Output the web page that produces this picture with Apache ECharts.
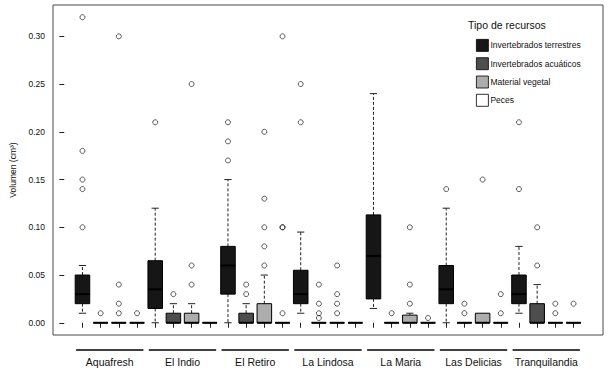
<!DOCTYPE html>
<html>
<head>
<meta charset="utf-8">
<script src="https://cdn.jsdelivr.net/npm/echarts@6/dist/echarts.min.js"></script>
<style>
  html, body { margin: 0; padding: 0; background: #fff; }
  #chart { width: 609px; height: 371px; }
</style>
</head>
<body>
<div id="chart"></div>
<script>
const groups = ['Aquafresh', 'El Indio', 'El Retiro', 'La Lindosa', 'La Maria', 'Las Delicias', 'Tranquilandia']
const seriesNames = ['Invertebrados terrestres', 'Invertebrados acuáticos', 'Material vegetal', 'Peces']
const seriesColors = ['#161616', '#4d4d4d', '#adadad', '#ffffff']
const yTicks = [0, 0.05, 0.1, 0.15, 0.2, 0.25, 0.3]

// [bigote inferior, Q1, mediana, Q3, bigote superior] por localidad
const terrStats = [
    [0.01, 0.02, 0.03, 0.05, 0.06],
    [0.0, 0.015, 0.035, 0.065, 0.12],
    [0.0, 0.03, 0.06, 0.08, 0.15],
    [0.01, 0.02, 0.03, 0.055, 0.095],
    [0.015, 0.025, 0.07, 0.113, 0.24],
    [0.0, 0.02, 0.035, 0.06, 0.12],
    [0.01, 0.02, 0.03, 0.05, 0.08],
]
const acuStats = [
    [0, 0, 0, 0, 0],
    [0, 0, 0, 0.01, 0.02],
    [0, 0, 0, 0.01, 0.02],
    [0, 0, 0, 0, 0],
    [0, 0, 0, 0, 0],
    [0, 0, 0, 0, 0],
    [0, 0, 0, 0.02, 0.04],
]
const vegStats = [
    [0, 0, 0, 0, 0],
    [0, 0, 0, 0.01, 0.02],
    [0, 0, 0, 0.02, 0.05],
    [0, 0, 0, 0, 0],
    [0, 0, 0, 0.008, 0.01],
    [0, 0, 0, 0.01, 0.01],
    [0, 0, 0, 0, 0],
]
const pecesStats = [
    [0, 0, 0, 0, 0],
    [0, 0, 0, 0, 0],
    [0, 0, 0, 0, 0],
    [0, 0, 0, 0, 0],
    [0, 0, 0, 0, 0],
    [0, 0, 0, 0, 0],
    [0, 0, 0, 0, 0],
]

// valores atipicos por localidad
const terrOut = [[0.32, 0.18, 0.15, 0.14, 0.1], [0.21], [0.17, 0.19, 0.21], [0.21, 0.25], [], [0.14], [0.14, 0.21]]
const acuOut = [[0.01], [0.03], [0.03, 0.04], [0.005, 0.01, 0.02, 0.04], [0.01], [0.01, 0.02], [0.06, 0.1]]
const vegOut = [[0.01, 0.02, 0.04, 0.3], [0.04, 0.06, 0.25], [0.06, 0.08, 0.1, 0.13, 0.2], [0.01, 0.02, 0.03, 0.06], [0.02, 0.04, 0.1], [0.15], [0.01, 0.02]]
const pecesOut = [[0.01], [], [0.01, 0.1, 0.1, 0.3], [], [0.005], [0.01, 0.03], [0.02]]

const allStats = [terrStats, acuStats, vegStats, pecesStats]
const allOut = [terrOut, acuOut, vegOut, pecesOut]

const boxWidth = 0.8
const fontFamily = '"Liberation Sans", Arial, sans-serif'

function renderBox(params, api) {
    const x = api.value(0)
    const lo = api.coord([x, api.value(1)])
    const q1 = api.coord([x, api.value(2)])
    const med = api.coord([x, api.value(3)])
    const q3 = api.coord([x, api.value(4)])
    const hi = api.coord([x, api.value(5)])
    const half = api.size([boxWidth, 0])[0] / 2
    const cx = med[0]
    const children = []
    const dash = { stroke: '#222', lineWidth: 1, lineDash: [3, 2] }
    const solid = { stroke: '#222', lineWidth: 1 }
    if (hi[1] < q3[1] - 0.5) {
        children.push({ type: 'line', shape: { x1: cx, y1: q3[1], x2: cx, y2: hi[1] }, style: dash })
        children.push({ type: 'line', shape: { x1: cx - half / 2, y1: hi[1], x2: cx + half / 2, y2: hi[1] }, style: solid })
    }
    if (lo[1] > q1[1] + 0.5) {
        children.push({ type: 'line', shape: { x1: cx, y1: q1[1], x2: cx, y2: lo[1] }, style: dash })
        children.push({ type: 'line', shape: { x1: cx - half / 2, y1: lo[1], x2: cx + half / 2, y2: lo[1] }, style: solid })
    }
    children.push({
        type: 'rect',
        shape: { x: cx - half, y: q3[1], width: half * 2, height: q1[1] - q3[1] },
        style: { fill: api.visual('color'), stroke: '#000', lineWidth: 1 },
    })
    children.push({
        type: 'line',
        shape: { x1: cx - half, y1: med[1], x2: cx + half, y2: med[1] },
        style: { stroke: '#000', lineWidth: 2 },
    })
    return { type: 'group', children: children }
}

const series = []
seriesNames.forEach((name, s) => {
    series.push({
        type: 'custom',
        name: name,
        renderItem: renderBox,
        itemStyle: { color: seriesColors[s] },
        encode: { x: 0, y: [1, 2, 3, 4, 5] },
        data: allStats[s].map((st, g) => [g * 4 + s + 1].concat(st)),
        clip: false,
        silent: true,
        z: 2,
    })
})

const outData = []
allOut.forEach((perGroup, s) => {
    perGroup.forEach((vals, g) => {
        vals.forEach(v => outData.push([g * 4 + s + 1, v]))
    })
})
series.push({
    type: 'scatter',
    name: 'outliers',
    symbol: 'circle',
    symbolSize: 5,
    itemStyle: { color: 'rgba(0,0,0,0)', borderColor: '#000', borderWidth: 0.8 },
    data: outData,
    silent: true,
    z: 3,
})

// lineas bajo cada localidad
series.push({
    type: 'custom',
    name: 'grupos',
    clip: false,
    silent: true,
    data: groups.map((g, i) => [i * 4 + 0.65, i * 4 + 4.35]),
    encode: { x: [0, 1] },
    renderItem(params, api) {
        const ys = api.coord([0, -0.0128])[1] + 15
        const a = api.coord([api.value(0), 0])[0]
        const b = api.coord([api.value(1), 0])[0]
        return { type: 'line', shape: { x1: a, y1: ys, x2: b, y2: ys }, style: { stroke: '#000', lineWidth: 1.3 } }
    },
})

const chart = echarts.init(document.getElementById('chart'), null, { renderer: 'svg' })
chart.setOption({
    animation: false,
    backgroundColor: '#fff',
    textStyle: { fontFamily: fontFamily },
    title: {
        text: 'Tipo de recursos',
        left: 468,
        top: 19,
        padding: 0,
        textStyle: { fontSize: 10.5, fontWeight: 'normal', color: '#111', fontFamily: fontFamily },
    },
    legend: {
        data: seriesNames,
        orient: 'vertical',
        left: 476,
        top: 39,
        padding: 0,
        itemWidth: 12,
        itemHeight: 12,
        itemGap: 5.5,
        icon: 'rect',
        selectedMode: false,
        itemStyle: { borderColor: '#000', borderWidth: 0.8 },
        textStyle: { fontSize: 8.5, color: '#111', padding: [0, 0, 0, -3] },
    },
    grid: {
        left: 48,
        top: 5,
        right: 6,
        bottom: 36,
        show: true,
        borderColor: '#4a4a4a',
        borderWidth: 1,
        containLabel: false,
    },
    xAxis: {
        type: 'value',
        min: -0.62,
        max: 29.62,
        offset: 2,
        axisLine: { show: false },
        splitLine: { show: false },
        axisTick: {
            show: true,
            length: 5,
            lineStyle: { color: '#222' },
            customValues: Array.from({ length: 28 }, (_, i) => i + 1),
        },
        axisLabel: {
            customValues: groups.map((g, i) => i * 4 + 2.5),
            formatter: v => groups[Math.round((v - 2.5) / 4)],
            margin: 19,
            fontSize: 10.5,
            color: '#111',
            fontFamily: fontFamily,
        },
    },
    yAxis: {
        type: 'value',
        min: -0.0128,
        max: 0.3328,
        name: 'Volumen (cm³)',
        nameLocation: 'middle',
        nameGap: 36,
        nameTextStyle: { fontSize: 8.5, color: '#111', fontFamily: fontFamily },
        axisLine: { show: false },
        splitLine: { show: false },
        axisTick: {
            show: true,
            length: 5,
            lineStyle: { color: '#222' },
            customValues: yTicks,
        },
        axisLabel: {
            customValues: yTicks,
            formatter: v => v.toFixed(2),
            margin: 8,
            fontSize: 8.5,
            color: '#111',
            fontFamily: fontFamily,
        },
    },
    series: series,
})
</script>
</body>
</html>
